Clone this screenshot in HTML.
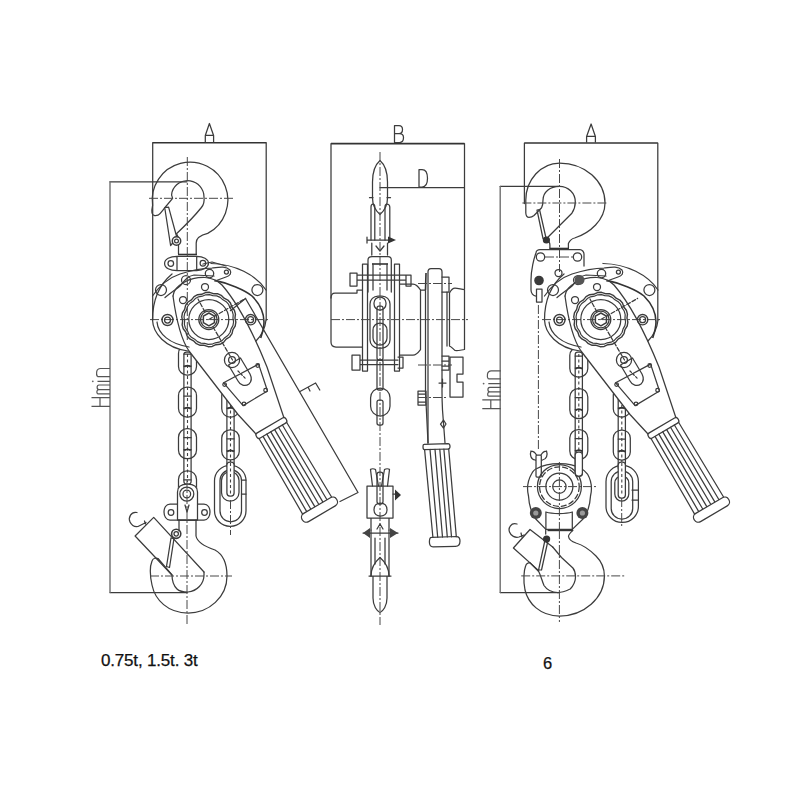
<!DOCTYPE html>
<html><head><meta charset="utf-8">
<style>
html,body{margin:0;padding:0;background:#fff;width:800px;height:800px;overflow:hidden}
svg{display:block}
.s{fill:none;stroke:#3c3c3c;stroke-width:1.25;stroke-linejoin:round;stroke-linecap:round}
.t{fill:none;stroke:#333;stroke-width:1.6}
.c{fill:none;stroke:#484848;stroke-width:1;stroke-dasharray:9 2 2 2}
.w{fill:#fff}
.cd{fill:none;stroke:#444;stroke-width:1.1;stroke-dasharray:3 2.5}
.h{fill:none;stroke:#555;stroke-width:1.2}
.txt{font-family:"Liberation Sans",sans-serif;fill:#111;stroke:#111;stroke-width:0.25}
</style></head>
<body>
<svg width="800" height="800" viewBox="0 0 800 800">
<defs>
<g id="mech">
  <path fill="#fff" d="M152.5,320 C152.5,290 170,263.5 211,263.5 C240,264 266,285 266,320 C265,330 261,336 256,341 L267,367 L284.5,419.5 L256,434 L238,414.5 L189,351 C165,348 153,333 152.5,320 Z"/>
  <!-- body outer -->
  <path class="s" d="M152.5,320 C152.5,300 160,284 172,274 M211,263.5 C235,264 256,275 266,290 M266,320 C265,330 261,336 256,341"/>
  <path class="s" d="M152.5,320 C153,333 165,348 188,351 M157,322 C158,334 170,344 189,347"/>
  <!-- thick inner arc -->
  <path class="t" d="M214.6,280.4 C228,283 245,290 252,296 C260,304 264,314 264,322 C264,328 262,334 260.7,338"/>
  <!-- centre line -->
  <path class="c" d="M150,319.6 H270"/>
  <!-- gear -->
  <path class="s" style="stroke-width:1.4" d="M235.86,322.22 L235.16,326.22 L232.94,329.68 L232.01,333.69 L229.63,336.99 L226.13,339.15 L223.55,342.35 L219.98,344.30 L215.89,344.72 L212.17,346.49 L208.11,346.69 L204.24,345.30 L200.13,345.28 L196.38,343.70 L193.50,340.77 L189.80,338.97 L187.11,335.92 L185.79,332.02 L183.24,328.80 L182.14,324.88 L182.63,320.80 L181.74,316.78 L182.44,312.78 L184.66,309.32 L185.59,305.31 L187.97,302.01 L191.47,299.85 L194.05,296.65 L197.62,294.70 L201.71,294.28 L205.43,292.51 L209.49,292.31 L213.36,293.70 L217.47,293.72 L221.22,295.30 L224.10,298.23 L227.80,300.03 L230.49,303.08 L231.81,306.98 L234.36,310.20 L235.46,314.12 L234.97,318.20 Z"/>
  <path class="s" style="stroke-width:1.2" d="M233.58,321.99 L232.93,325.65 L231.10,328.91 L230.04,332.49 L227.87,335.51 L224.81,337.65 L222.30,340.42 L219.03,342.20 L215.35,342.80 L211.89,344.21 L208.17,344.39 L204.59,343.33 L200.86,343.10 L197.43,341.65 L194.67,339.15 L191.41,337.32 L188.95,334.53 L187.54,331.07 L185.40,328.01 L184.39,324.43 L184.63,320.70 L184.02,317.01 L184.67,313.35 L186.50,310.09 L187.56,306.51 L189.73,303.49 L192.79,301.35 L195.30,298.58 L198.57,296.80 L202.25,296.20 L205.71,294.79 L209.43,294.61 L213.01,295.67 L216.74,295.90 L220.17,297.35 L222.93,299.85 L226.19,301.68 L228.65,304.47 L230.06,307.93 L232.20,310.99 L233.21,314.57 L232.97,318.30 Z"/>
  <circle class="s" cx="208.8" cy="319.5" r="20"/>
  <circle class="s" cx="208.8" cy="319.5" r="10"/>
  <circle class="s" cx="208.8" cy="319.5" r="8.3"/>
  <path class="s" style="stroke-width:1.5" d="M208.90,325.80 L203.36,322.60 L203.36,316.20 L208.90,313.00 L214.44,316.20 L214.44,322.60 Z"/>
  <path class="s" d="M208.8,319.5 L245.6,298.4 M205,312 L198,299 M213,327 L232.5,360" stroke-dasharray="4 2"/>
  <!-- bolts and holes -->
  <circle class="s" cx="167.5" cy="320" r="5.5" style="stroke-width:1.4"/>
  <circle class="s" cx="167.5" cy="320" r="3"/>
  <circle class="s" cx="250.6" cy="319.7" r="5.2" style="stroke-width:1.4"/>
  <circle class="s" cx="250.6" cy="319.7" r="3"/>
  <circle class="s" cx="161" cy="290" r="5.5"/>
  <circle class="s" cx="257.4" cy="290" r="5.5"/>
  <circle class="s" cx="205" cy="287" r="3.5"/>
  <circle class="s" cx="183" cy="300" r="3.5"/>
  <circle class="s" cx="209.5" cy="273.6" r="4.2" style="stroke-width:1.3"/>
  <circle class="s" cx="186" cy="280" r="4.5"/>
  <!-- upper bracket / pawl -->
  <path class="s" d="M152.5,296 C158,288 168,278 180,274 C192,270 200,268 212,268 C220,267 226,266 230,270 C232,273 230,276 226,277 L215,281"/>
  <path class="s" d="M165,297.5 C172,292 178,288 181,285 C185,280 188,276 194,275 L214,276"/>
  <circle class="s" cx="226.4" cy="272" r="2"/>
  
  <!-- lever plate -->
  <path class="s" d="M173,296 C174,285 190,277 205,277.5 C212,278 218,281 222,285 C235,300 252,330 267,367 L284.5,419.5"/>
  <path class="s" d="M173,296 C176,318 180,338 189,351 L238,414.5 L256,434"/>
  <!-- lower lever hole and plate -->
  <path fill="#fff" class="s" d="M223.6,382.8 L258.6,364.1 L267.5,391 L243.1,405.6 Z"/>
  <circle class="s" cx="224.6" cy="384.6" r="1.8"/><circle class="s" cx="257.7" cy="365.5" r="1.8"/><circle class="s" cx="265.6" cy="390.2" r="1.8"/><circle class="s" cx="244" cy="403.8" r="1.8"/>
  <path fill="#fff" class="s" d="M228.5,365 L238,381 C240,385 245,387 249,384 C252,381 252,378 250,374 L240.5,358 Z"/>
  <circle fill="#fff" class="s" cx="232" cy="360" r="7.6"/>
  <circle class="s" cx="232" cy="360" r="3.4"/>
  <path class="s" d="M238,371 L246,379" stroke-dasharray="2 2"/>
  <!-- grip -->
  <g transform="translate(271.4,428) rotate(-30.5)">
    <rect class="s w" x="-17.2" y="-3" width="34.4" height="6" rx="2.5"/>
    <path class="s" d="M-16,3 L-16.8,90 M16,3 L16.8,90 M-11.5,3 L-12,90 M-7,3 L-7.2,90 M-2.5,3 L-2.5,90 M2,3 L2.1,90 M6.5,3 L6.8,90 M11,3 L11.5,90"/>
    <rect class="s w" x="-20" y="90" width="40" height="9.5" rx="4.5"/>
  </g>
</g>

</defs>
<!-- chains -->
<rect class="s w" x="183.90" y="352.00" width="7.2" height="132.00" rx="2.5"/>
<path class="cd" d="M187.50,354.00 V482.00"/>
<rect class="s" x="178.50" y="345.00" width="18" height="30" rx="8.50"/>
<path class="s" d="M183.90,366.00 H191.10 M183.90,354.00 H191.10"/>
<path class="t" d="M184.40,367.00 C185.50,365.00 189.50,365.00 190.60,367.00"/>
<rect class="s" x="178.50" y="387.00" width="18" height="30" rx="8.50"/>
<path class="s" d="M183.90,408.00 H191.10 M183.90,396.00 H191.10"/>
<path class="t" d="M184.40,409.00 C185.50,407.00 189.50,407.00 190.60,409.00"/>
<rect class="s" x="178.50" y="428.70" width="18" height="30" rx="8.50"/>
<path class="s" d="M183.90,449.70 H191.10 M183.90,437.70 H191.10"/>
<path class="t" d="M184.40,450.70 C185.50,448.70 189.50,448.70 190.60,450.70"/>
<rect class="s" x="178.50" y="470.90" width="18" height="30" rx="8.50"/>
<path class="s" d="M183.90,491.90 H191.10 M183.90,479.90 H191.10"/>
<path class="t" d="M184.40,492.90 C185.50,490.90 189.50,490.90 190.60,492.90"/>
<rect class="s w" x="226.90" y="392.00" width="7.2" height="76.00" rx="2.5"/>
<path class="cd" d="M230.50,394.00 V466.00"/>
<rect class="s" x="221.75" y="387.00" width="17.5" height="30" rx="8.25"/>
<path class="s" d="M226.90,408.00 H234.10 M226.90,396.00 H234.10"/>
<path class="t" d="M227.40,409.00 C228.50,407.00 232.50,407.00 233.60,409.00"/>
<rect class="s" x="221.75" y="429.80" width="17.5" height="30" rx="8.25"/>
<path class="s" d="M226.90,450.80 H234.10 M226.90,438.80 H234.10"/>
<path class="t" d="M227.40,451.80 C228.50,449.80 232.50,449.80 233.60,451.80"/>
<rect class="s" x="214.5" y="465.3" width="31.5" height="61" rx="15.5" fill="#fff"/>
<rect class="s" x="220" y="469.8" width="21.5" height="52" rx="10.7"/>
<rect class="s" x="221.5" y="471.7" width="17.5" height="29.5" rx="8.7"/>
<rect class="s w" x="226.9" y="462" width="7.2" height="34" rx="3"/>
<path class="cd" d="M230.5,463 V494"/>
<path class="s" d="M241.5,480 H246 M241.5,494 H246"/>
<path class="c" d="M230.5,500 V535"/>
<rect class="s w" x="575.20" y="352.00" width="7.2" height="124.00" rx="2.5"/>
<path class="cd" d="M578.80,354.00 V474.00"/>
<rect class="s" x="569.80" y="347.00" width="18" height="30" rx="8.50"/>
<path class="s" d="M575.20,368.00 H582.40 M575.20,356.00 H582.40"/>
<path class="t" d="M575.70,369.00 C576.80,367.00 580.80,367.00 581.90,369.00"/>
<rect class="s" x="569.80" y="388.50" width="18" height="30" rx="8.50"/>
<path class="s" d="M575.20,409.50 H582.40 M575.20,397.50 H582.40"/>
<path class="t" d="M575.70,410.50 C576.80,408.50 580.80,408.50 581.90,410.50"/>
<rect class="s" x="569.80" y="429.50" width="18" height="30" rx="8.50"/>
<path class="s" d="M575.20,450.50 H582.40 M575.20,438.50 H582.40"/>
<path class="t" d="M575.70,451.50 C576.80,449.50 580.80,449.50 581.90,451.50"/>
<rect class="s w" x="618.20" y="392.00" width="7.2" height="78.00" rx="2.5"/>
<path class="cd" d="M621.80,394.00 V468.00"/>
<rect class="s" x="613.30" y="387.00" width="17" height="30" rx="8.00"/>
<path class="s" d="M618.20,408.00 H625.40 M618.20,396.00 H625.40"/>
<path class="t" d="M618.70,409.00 C619.80,407.00 623.80,407.00 624.90,409.00"/>
<rect class="s" x="613.30" y="430.00" width="17" height="30" rx="8.00"/>
<path class="s" d="M618.20,451.00 H625.40 M618.20,439.00 H625.40"/>
<path class="t" d="M618.70,452.00 C619.80,450.00 623.80,450.00 624.90,452.00"/>
<rect class="s" x="606" y="465.4" width="32.4" height="57" rx="16" fill="#fff"/>
<rect class="s" x="611.2" y="471" width="21.5" height="48" rx="10.5"/>
<rect class="s" x="614.8" y="476" width="14" height="25" rx="7"/>
<rect class="s w" x="618.2" y="462" width="7.2" height="36" rx="3"/>
<path class="cd" d="M621.8,463 V496"/>
<path class="s" d="M632,490 H638 M632,500 H638"/>
<path class="c" d="M621.7,498 V528"/>
<!-- ============ LEFT VIEW ============ -->
<use href="#mech"/>
<!-- slot bar & outer arm -->
  <path class="s" d="M230.4,310.7 L245.5,298.5 L358,492.5 L340,501.5"/>
  <!-- E mark -->
  <path class="s" d="M300,391.5 L315.6,383 L319.8,390 M308.5,388 L310,391"/>
  
<!-- dimension A -->
<path class="t" d="M152.7,142.7 H266.2"/>
<path class="s" d="M152.7,142.7 V320 M266.2,142.7 V320"/>
<path class="s" d="M205.3,142 V135.5 L209.4,123.5 L213.6,135.5 V142 M205.3,135.3 H213.6"/>
<!-- Hmin -->
<path class="s" d="M110,181.8 H187 M110,592.5 H187"/><path class="s" style="stroke:#707070;stroke-width:1.4" d="M110,181.8 V592.5"/>
<path class="h" d="M110,397.6 H91.5 M110,406.3 H91.5 M100,397.6 V406.3 M110,393.8 H97.5 M97.5,393.8 C96.5,392.5 96.5,389.6 99,389.6 H110 M99,389.6 C96.5,389.6 96.5,385 99,385 H110 M110,381.3 H97.5 M110,376.6 H97.5 M97.5,376.6 C96,374.5 95.8,368.5 100.5,368.5 H110"/><circle cx="92.8" cy="381.3" r="0.9" fill="#666"/>
<!-- hook -->
<path class="s" d="M196.2,254 V243 C196.2,238 201,235 207.7,233.4 A37.8,37.8 0 1 0 152.6,205.3 C152,208 151.6,211 152,213 C152.5,215.5 155,216.2 158,215.2 C161,213.5 163,210 165,207.5 L172.6,198.3 C171.5,196 171.2,194 172,192 A16.4,16.4 0 0 1 204,197 C204.5,201 203.5,205 201.4,207.5 C197,213 190,221 176.5,233.7 C178,236 178.5,238 178.5,241 V254"/>
<path class="t" d="M178,254.5 H197"/>
<path class="s w" d="M164.7,207.5 L168.6,207.2 L177,238 L170.6,245.5 Z"/>
<circle class="s w" cx="176.5" cy="241" r="4.2" style="stroke-width:1.5"/>
<circle class="s" cx="176.5" cy="241" r="1.9"/>
<path class="c" d="M187.3,157 V340 M149,198.3 H233"/>
<!-- top lug -->
<path class="s" d="M203,264 L212,262 L226,266"/>
<path class="s" d="M177,256.3 H196.7 C203,256.3 208.5,259 208.5,263.3 C208.5,267.5 203,270.3 196.7,270.6 H177 C170,270.6 164.6,268 164.6,263.5 C164.6,259 170,256.3 177,256.3 Z M177,256.3 V270.6 M196.7,256.3 V270.6"/>
<circle class="s" cx="170.8" cy="263.5" r="2.8"/>
<circle class="s" cx="202.9" cy="263.2" r="2.8"/>


<!-- left lower hook block -->
<path class="s w" d="M177.5,504 H170 C166,504 164,508 164,512 C164,516 166,520 170,520 H204 C208,520 210,516 210,512 C210,508 208,504 204,504 H197.5"/>
<path class="s w" d="M177.5,520 V492 C177.5,486 181,484 187.5,484 C194,484 197.5,486 197.5,492 V520"/>
<circle class="s" cx="186.8" cy="494" r="7"/><circle class="s" cx="186.8" cy="494" r="3.8"/>
<circle class="s" cx="171" cy="512.5" r="2.8"/><circle class="s" cx="204.5" cy="512.5" r="2.8"/>
<path class="t" d="M178,520 H197"/>
<path class="s" d="M185,505 L187,512 L189,505"/>
<!-- left bottom hook -->
<path class="s" d="M196,520 V536 C197,541 203,546 215,550 C224,555 227,566 227,576 C227,597 209,613 188,613 C168,613 155,600 152,585 C150,576 150,566 152,561 C153,558 156,557.5 158,558.5 L172,575 C172,580 174,586 177,589 C180,592 184,592 188,592 C197,591 204,584 204,575 L204,572"/>
<path class="s" d="M179,520 V531"/>
<!-- latch band -->
<path class="s" d="M135.1,536 L153.7,517.4 L204,572 M135.1,536 L172,575"/>
<path class="s" d="M137,512.5 C131,511 128,518 130,522 C132,526 135,527 138,526.5 L146,522.5 M144.5,521 L145.5,524"/>
<path class="s" d="M166.5,566.5 L171,538 L174,538.5 L169.5,567.5 Z"/>
<circle class="s" cx="176.2" cy="533.8" r="4.6" style="stroke-width:1.6"/><circle class="s" cx="176.2" cy="533.8" r="2.2"/>
<path class="c" d="M187,480 V625 M150,576 H232"/>

<!-- ============ MIDDLE VIEW ============ -->
<path class="t" d="M331,143.6 H464.5"/>
<path class="s" d="M331,143.6 V298 M464.5,143.6 V289 M380,187.6 H464.5"/>
<!-- B letter -->
<path class="s" d="M394.5,125.5 V142.5 H399.5 C402.5,142.5 403.5,140 403.5,137.5 C403.5,135 402,133.5 399.5,133.5 H394.5 M399,133.5 C401.5,133.5 402.5,131.5 402.5,129.5 C402.5,127 401,125.5 399,125.5 H394.5"/>
<!-- D letter -->
<path class="s" d="M419,169.5 V187 H422 C426,187 427.5,183 427.5,178.3 C427.5,173 426,169.5 422,169.5 Z"/>
<!-- top hook side -->
<path class="s" d="M380,160.5 C384,164 387.5,172 387.5,182 V198 C387.5,205 384,211 380,214.5 C376,211 372.5,205 372.5,198 V182 C372.5,172 376,164 380,160.5 Z"/>
<path class="s" d="M369.5,197.7 H373 M387,197.7 H390.5"/>
<path class="s" d="M371,240 V207 C371,205 372,204 373,204 C374,204 374.8,205 374.8,207 V240 M385,240 V207 C385,205 386,204 387,204 C388,204 389.8,205 389.8,207 V240"/>
<path class="s" d="M367,240 H390 M367,237 V243"/>
<path d="M388,236.5 L396,240 L388,243.5 Z" fill="#333"/>
<path class="s" d="M371.8,243 V255 M387.5,243 V255 M376,246 L380,251 L384,246"/>
<path class="c" d="M380,152 V625"/>
<!-- shackle block -->
<path class="s" d="M368,292 V260 C368,257.5 369.5,256.5 372,256.5 H388 C390,256.5 391.3,257.5 391.3,260 V292"/>
<path class="t" d="M372,264 H388"/>
<path class="s" d="M373,264 V290 M387,264 V290"/>
<!-- side plates -->
<path class="s" d="M362.5,264 V371 M367.5,264 V371 M394.5,264 V371 M399.5,264 V371 M362.5,264 H367.5 M394.5,264 H399.5 M362.5,371 H367.5 M394.5,371 H399.5"/>
<!-- bolts -->
<path class="s" d="M357,275 H406 M357,280 H406 M350,273 H357 V286 H350 Z M406,275 H411 V286 H406 Z"/>
<path class="s" d="M360,360 H398 M360,364.5 H398 M352,355 H360 V370 H352 Z M398,357 H403 V368 H398"/>
<!-- chain inside -->
<rect class="s" x="370" y="296" width="20" height="52" rx="8"/>
<rect class="s" x="374" y="297" width="12" height="13" rx="6"/>
<rect class="s" x="377" y="306" width="6" height="54" rx="2"/>
<rect class="s" x="373" y="323" width="14" height="22" rx="7"/>
<!-- left housing -->
<path class="s" d="M362.5,290 H357 V293 H335 C332.5,293 331,295 331,298 V342 C331,345 333,347 336,347 H362.5"/>
<!-- right housings -->
<path class="s" d="M399.5,284 H413 C416,284 418,286 420.5,290 V349.5 C419,351.5 416,355 413,355 H399.5"/>
<path class="s" d="M420.5,290 H425.5 V392 L428,443"/>
<path class="s" d="M428,443 V272 C428,269.5 429,268.5 431,268.5 H439 C441,268.5 442,269.5 442,272 V392 C442,400 442.5,410 442.5,410 L445,443"/>
<path class="t" d="M426,273 L425.5,290"/>
<path class="s" d="M442,277 H449 V292 H442 M442,356 H449 V370 H442 M442,361 H449 M442,366 H449"/>
<path class="s" d="M447,292 V346 M449.5,293 C451,290 453,288 455,288 C458,288 462,289.5 464.5,289.5 V349.5 C461,350 458,351 455,350.5 C453,349 451,346 449.5,346 V293"/>
<path class="s" d="M450,357 H463 V374 H457 V382 H463 V397 H450 Z"/>
<path class="c" d="M331,319.6 H468 M418,283.5 H452 M418,365 H452"/>
<path class="s" d="M418,391 H426 V405 H418 Z M418,394 H426 M418,402 H426"/>
<path class="c" d="M418,397.5 H446"/>
<path class="s" d="M439,383 H446 M442.5,379 V387 M440.5,424 L443.5,420 L446,424 L443.5,428 Z"/>
<!-- grip middle -->
<path class="s" d="M424,444.3 L448,443.6 C449.5,443.6 450,444.5 450,446.5 C450,448.3 449.5,449 448,449 L424.5,449.6 C423.3,449.6 423,448.6 423,447 C423,445.3 423.3,444.3 424,444.3 Z"/>
<path class="s" d="M424.6,449.6 L432.9,537.2 M430,449.5 L437.7,537.2 M435,449.4 L442.5,537 M439.8,449.3 L447.3,536.9 M443.9,449.2 L451.5,536.8 M448.7,449 L456.3,536.6"/>
<path class="s" d="M431.5,537.3 L456.5,536.5 C459.5,536.5 460,538.5 460,541 C460,544.5 458.5,546.3 455.5,546.3 L433,546.8 C430.5,546.8 429.4,545 429.4,542 C429.4,539 430,537.3 431.5,537.3 Z"/>
<!-- middle chain below -->
<rect class="s" x="377" y="360" width="6" height="30" rx="2"/>
<rect class="s" x="370.6" y="388" width="19.4" height="28" rx="9.7"/>
<rect class="s" x="377" y="400" width="6" height="25" rx="2" fill="#fff"/>
<!-- lower block middle -->
<path class="s" d="M370.5,469.5 C371.5,468.5 374,468.5 375.5,469.5 L378.5,486 M370.5,469.5 L372.5,486 M389.5,469.5 C388.5,468.5 386,468.5 384.5,469.5 L381.5,486 M389.5,469.5 L387.5,486"/>
<path class="s" d="M367,486 H393 V518 H367 Z M371,518 V530 M389,518 V530"/>
<rect class="s" x="377" y="472" width="6" height="32" rx="2.5"/>
<path class="s" d="M374,510 C374,505 377,503 380.5,503 C384,503 387,505 387,510 C387,514 384,516 380.5,516 C377,516 374,514 374,510 Z"/>
<path class="s" d="M393,494 H396"/>
<path d="M395,489.5 L401,495 L395,500.5 Z" fill="#333"/>
<path class="s" d="M363,533 H398"/>
<path d="M370,528 L363,533 L370,538 Z M390,528 L398,533 L390,538 Z" fill="#444"/>
<path class="s" d="M371,530 V576 M389,530 V576 M375,538 V564 M385,538 V564"/>
<path class="s" d="M371,576 C371,567 376,561 380,557.5 C384,561 389,567 389,576"/>
<path class="s" d="M373,576 V598 C373,606 377,611 380,612.5 C383,611 387,606 387,598 V576 M369,576 H391"/>
<path class="s" d="M377,529 L380,524 L383,529"/>
<!-- ============ RIGHT VIEW ============ -->
<use href="#mech" transform="translate(392,0)"/>
<path class="t" d="M524.4,143 H657.8"/>
<path class="s" d="M524.4,143 V203.5 M657.8,143 V320"/>
<path class="s" d="M586.6,142 V136.5 L591.1,124 L595.4,136.5 V142 M586.6,136.3 H595.4"/>
<path class="s" d="M500.2,186.4 H559.5 M500.2,592.5 H559.5"/><path class="s" style="stroke:#707070;stroke-width:1.4" d="M500.2,186.4 V592.5"/>
<g transform="translate(390.8,2.3)"><path class="h" d="M110,397.6 H91.5 M110,406.3 H91.5 M100,397.6 V406.3 M110,393.8 H97.5 M97.5,393.8 C96.5,392.5 96.5,389.6 99,389.6 H110 M99,389.6 C96.5,389.6 96.5,385 99,385 H110 M110,381.3 H97.5 M110,376.6 H97.5 M97.5,376.6 C96,374.5 95.8,368.5 100.5,368.5 H110"/><circle cx="92.8" cy="381.3" r="0.9" fill="#666"/></g>
<!-- hook R -->
<path class="s" d="M568.4,248.3 V243.5 C570,240 572,238.5 574.6,238 C590,233 605,220 605,203 C605,181 585,163 559.5,163 C541,163 525.8,180 525.8,200 V213 C526,216 527,217.4 529,217.4 C531,217.4 532.7,216.7 534,215.5 L541.6,207.7 C543,205 543,202 543,200 C543,192 550,186.4 559.5,186.4 C568,186.4 575.3,193 575.3,202 C575.3,207 574,210 571.9,213.2 L558.1,227 L547.1,238 C548,240 549.9,242 549.9,245 V248.3"/>
<path class="t" d="M549.5,248.5 H569"/>
<path class="s" d="M537,210 L539.5,209.5 L546,238 L543,238.5 Z"/>
<circle cx="546.4" cy="240" r="3.6" fill="#333"/>
<path class="c" d="M559.5,159 V272 M522.4,203 H607"/>
<!-- top block R -->
<path class="s" d="M540,249.5 H580 C582,249.5 584,252 584,254 V266 M540,249.5 C538,249.5 536,251 536,253 C534,258 531,270 531,280 V290 C531,293 533,296 536,296"/>
<circle class="s" cx="540.5" cy="257" r="4.2"/><circle class="s" cx="577.5" cy="257" r="4.2"/>
<path class="c" d="M545,257 H573"/>
<circle cx="539" cy="280.5" r="4.8" fill="#3a3a3a"/>
<rect class="s" x="536.5" y="289" width="5.5" height="13"/>
<circle class="s" cx="558.5" cy="273" r="3.5"/>
<path class="c" d="M538.4,305 V450"/>
<circle cx="579.5" cy="280" r="5" fill="#555"/>
<!-- pulley block R -->
<path class="s" d="M531,451 C529.5,455 531,459.5 535,460 L537,460 M546.5,451 C548,455 546.5,459.5 542.5,460 L540.5,460 M531,451 C533,451 535,452 536.5,455 M546.5,451 C544.5,451 542.5,452 541,455"/>
<rect class="s w" x="536" y="455" width="5.3" height="22" rx="1"/>
<path fill="#fff" class="s" d="M545.9,529.4 L535.8,519 C532,514 529,505 528.5,496 A30,30 0 0 1 531.5,474 C533,471 535,469 537,468.5 C543,465 551,463.6 559.4,463.6 C567,463.6 575,465 581,468.5 C584,470 586,472 587.5,474 A30,30 0 0 1 590.5,496 C590,505 587,514 583,519 L572.3,529.4 Z"/>
<circle class="s" cx="559.4" cy="486.6" r="22"/>
<circle class="s" cx="559.4" cy="486.6" r="19.8" stroke-dasharray="5 3"/>
<circle class="s" cx="559.4" cy="486.6" r="13.5"/>
<circle class="s" cx="559.4" cy="486.6" r="6.7"/>
<path class="s" d="M545.9,512 V529.4 M572.3,512 V529.4 M545.9,512 C552,514 566,514 572.3,512"/>
<circle cx="535.8" cy="513" r="6" fill="#444"/><circle cx="582.4" cy="513" r="6" fill="#444"/>
<circle cx="535.8" cy="513" r="2.6" fill="#999"/><circle cx="582.4" cy="513" r="2.6" fill="#999"/>
<path class="c" d="M523,486.6 H596.4 M559.4,462 V530"/>
<rect class="s w" x="575.2" y="452" width="7.2" height="24" rx="3"/>
<!-- bottom hook R -->
<path class="t" d="M547.5,530.4 H573"/>
<path class="s" d="M572.9,530.4 C570,533 568.5,535 568.5,536.5 C569,540 572,541.7 576,543 C583,545 590,550 596,556 C602,562 604.4,569 604.4,576 C604.4,598 584,616 559.5,616 C540,616 528,603 525,590 C523,580 524,570 525.6,566 C526.5,563.5 528,562.7 530,562.7 L538.7,571.5 C541,576 542,581 544,585.5 C547,590 552,592.5 558,592.5 C563,592.5 568,590 570.2,589 C574,585 575.5,581 575.5,576.7 C575.5,573 574.5,570 572.9,568 L561.5,557.5 L552.7,547"/>
<path class="s" d="M545.7,530.4 V534"/>
<path class="s" d="M513.4,548 L530,529.5 L552.7,547 M513.4,548 L538.7,570.6"/>
<path class="s" d="M517,524 C511,522 508,528 509.5,532 C511,536 515,538 519,537 L524,535 M521,533 L522,537"/>
<path class="s" d="M538.6,569.8 L545,540 L548,540.5 L541.5,570 Z"/>
<circle cx="546.6" cy="539" r="3.6" fill="#333"/>
<path class="c" d="M559.4,530 V622 M521.2,575.9 H624.5"/>

<!-- text -->
<text class="txt" x="101" y="666" font-size="17" letter-spacing="-0.18">0.75t, 1.5t. 3t</text>
<text class="txt" x="543" y="668.5" font-size="16.5">6</text>
</svg>
</body></html>
